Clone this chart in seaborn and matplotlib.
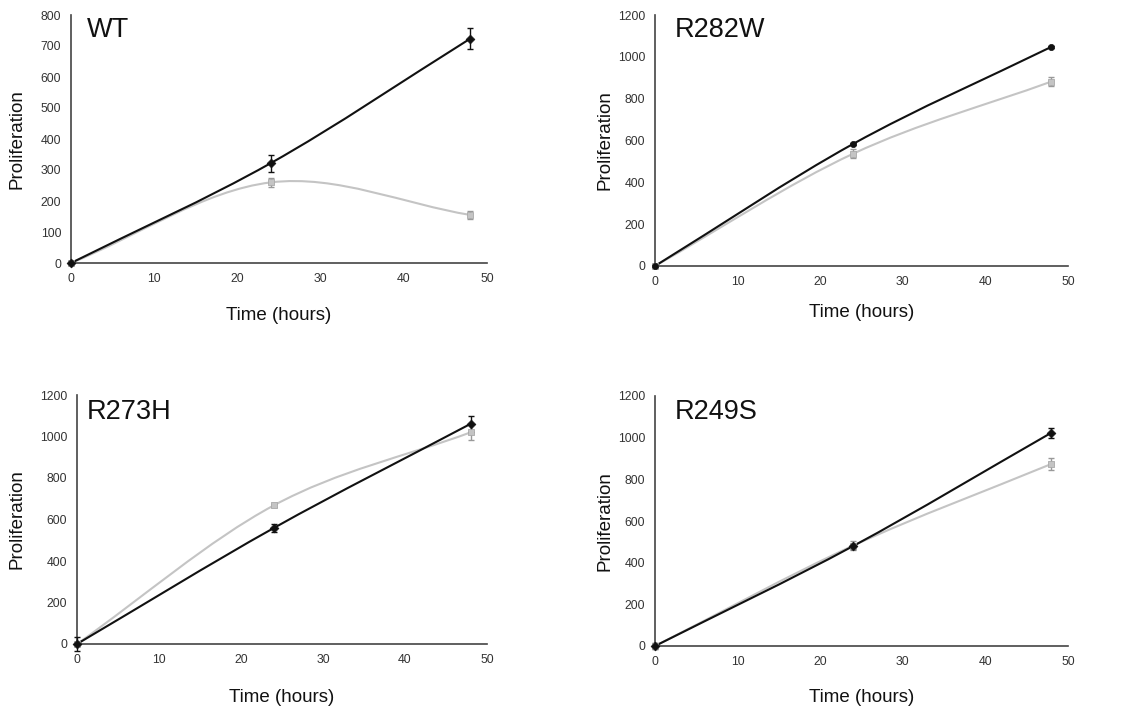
import numpy as np
import matplotlib
matplotlib.use("Agg")
import matplotlib.pyplot as plt
from matplotlib.path import Path
from matplotlib.patches import PathPatch
import pandas as pd
import seaborn as sns

# Sampling times (hours)
hours = [0, 24, 48]

# Proliferation means and error bars per construct
wt_black = [0, 322, 724]
wt_black_err = [6, 27, 33]
wt_gray = [0, 260, 155]
wt_gray_err = [8, 15, 14]

r282w_black = [0, 584, 1048]
r282w_black_err = [0, 6, 6]
r282w_gray = [0, 537, 882]
r282w_gray_err = [6, 22, 21]

r273h_black = [0, 559, 1061]
r273h_black_err = [32, 21, 40]
r273h_gray = [0, 668, 1020]
r273h_gray_err = [10, 8, 38]

r249s_black = [0, 480, 1024]
r249s_black_err = [15, 12, 24]
r249s_gray = [0, 482, 874]
r249s_gray_err = [10, 20, 29]

panel_names = ["WT", "R282W", "R273H", "R249S"]
y_max = [800, 1200, 1200, 1200]
y_step = [100, 200, 200, 200]

W, H = 1126, 715
# axes boxes in pixels: left, right, top, bottom
boxes = [(71, 487, 15, 263), (655, 1068, 15, 266),
         (77, 487, 395, 644), (655, 1068, 396, 646)]
title_pos = [(0.038, 0.94), (0.048, 0.94), (0.024, 0.93), (0.048, 0.935)]
ylabel_x = [-0.13, -0.121, -0.146, -0.121]
xlabel_y = [-0.21, -0.187, -0.213, -0.204]

BLACK = "#111111"
GRAY = "#c4c4c4"

sns.set_style("white")
plt.rcParams["font.family"] = ["Liberation Sans", "DejaVu Sans"]


def smooth_path(x, y):
    """Bezier path through the points, with Catmull-Rom style tangents."""
    p = np.column_stack([x, y]).astype(float)
    n = len(p)
    tang = np.zeros_like(p)
    for i in range(n):
        if i == 0:
            tang[i] = (p[1] - p[0]) / 3.0
        elif i == n - 1:
            tang[i] = (p[-1] - p[-2]) / 3.0
        else:
            tang[i] = (p[i + 1] - p[i - 1]) / 6.0
    verts = [p[0]]
    codes = [Path.MOVETO]
    for i in range(n - 1):
        verts += [p[i] + tang[i], p[i + 1] - tang[i + 1], p[i + 1]]
        codes += [Path.CURVE4] * 3
    return Path(verts, codes)


series = [
    (wt_black, wt_black_err, wt_gray, wt_gray_err),
    (r282w_black, r282w_black_err, r282w_gray, r282w_gray_err),
    (r273h_black, r273h_black_err, r273h_gray, r273h_gray_err),
    (r249s_black, r249s_black_err, r249s_gray, r249s_gray_err),
]

fig = plt.figure(figsize=(W / 100, H / 100), dpi=100)
fig.patch.set_facecolor("white")

for k, name in enumerate(panel_names):
    l, r, t, b = boxes[k]
    ax = fig.add_axes([l / W, (H - b) / H, (r - l) / W, (b - t) / H])
    bk, bk_err, gr, gr_err = series[k]

    df = pd.DataFrame({
        "hours": hours * 2,
        "value": gr + bk,
        "group": ["gray"] * 3 + ["black"] * 3,
    })

    # smoothed connecting curves (gray first, black on top)
    for vals, col, z in ((gr, GRAY, 2), (bk, BLACK, 3)):
        ax.add_patch(PathPatch(smooth_path(hours, vals), facecolor="none",
                               edgecolor=col, lw=1.5, zorder=z,
                               clip_on=False))

    ax.errorbar(hours, gr, yerr=gr_err, fmt="none", ecolor="#999999",
                elinewidth=1.0, capsize=2.5, capthick=1.0, zorder=4,
                clip_on=False)
    ax.errorbar(hours, bk, yerr=bk_err, fmt="none", ecolor=BLACK,
                elinewidth=1.0, capsize=2.5, capthick=1.0, zorder=5,
                clip_on=False)

    sns.scatterplot(data=df[df.group == "gray"], x="hours", y="value",
                    marker="s", s=22, color=GRAY, edgecolor="#aaaaaa",
                    linewidth=0.6, ax=ax, zorder=6, clip_on=False,
                    legend=False)
    sns.scatterplot(data=df[df.group == "black"], x="hours", y="value",
                    marker="D" if k != 1 else "o", s=20, color=BLACK,
                    edgecolor=BLACK, linewidth=0.5, ax=ax, zorder=7,
                    clip_on=False, legend=False)

    ax.set_xlim(0, 50)
    ax.set_ylim(0, y_max[k])
    ax.set_xticks(range(0, 51, 10))
    ax.set_yticks(range(0, y_max[k] + 1, y_step[k]))
    ax.tick_params(axis="both", direction="out", length=3, width=1,
                   color="#444444", labelsize=8.8, labelcolor="#333333",
                   pad=4)
    sns.despine(ax=ax)
    for s in ("left", "bottom"):
        ax.spines[s].set_color("#444444")
        ax.spines[s].set_linewidth(1.2)
    ax.set_xlabel("Time (hours)", fontsize=13.5, color="#111111",
                  va="center")
    ax.set_ylabel("Proliferation", fontsize=13.5, color="#111111",
                  va="center")
    ax.xaxis.set_label_coords(0.5, xlabel_y[k])
    ax.yaxis.set_label_coords(ylabel_x[k], 0.5)
    ax.text(title_pos[k][0], title_pos[k][1], name, transform=ax.transAxes,
            fontsize=19.5, ha="left", va="center", color="#111111")

fig.savefig("out.png", dpi=100, facecolor="white")
